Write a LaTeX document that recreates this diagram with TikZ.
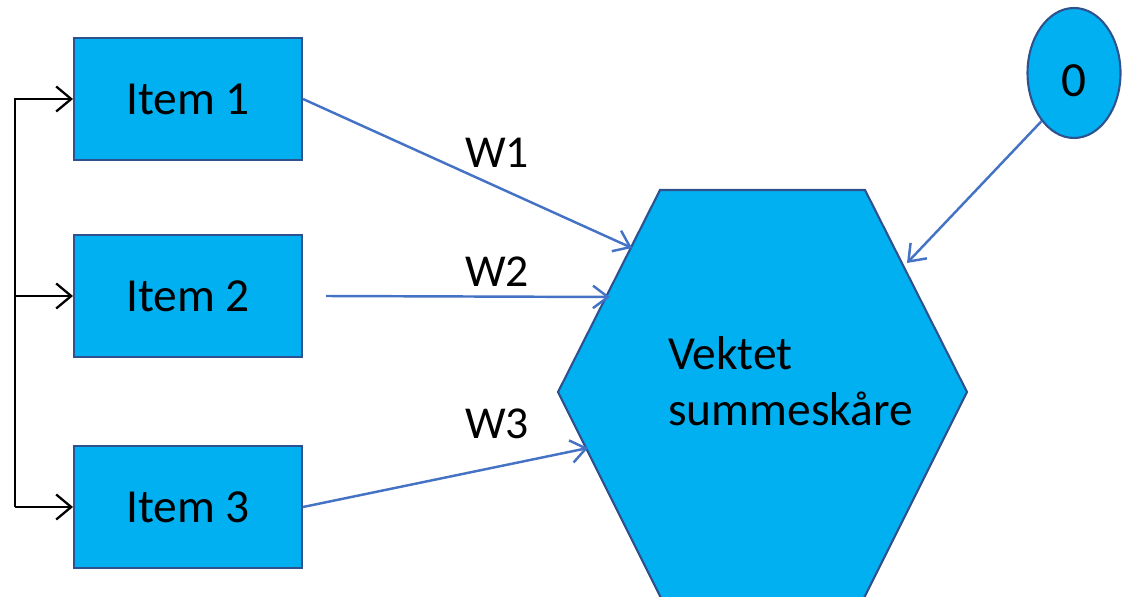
\documentclass[tikz,border=0pt]{standalone}
\usepackage{fontspec}
\setmainfont{Carlito}
\usetikzlibrary{arrows.meta,shapes.geometric}
\definecolor{itemfill}{RGB}{0,176,240}
\definecolor{itemline}{RGB}{47,82,143}
\definecolor{weightline}{RGB}{68,114,196}
\tikzset{
  itembox/.style={draw=itemline,line width=1.2pt,fill=itemfill,minimum width=4.56cm,minimum height=2.44cm,inner sep=0pt,font=\fontsize{27}{32}\selectfont},
  weight/.style={draw=weightline,line width=1.4pt,-{Straight Barb[length=3mm,width=4.5mm]}},
  feed/.style={draw=black,line width=1.3pt,-{Straight Barb[length=3mm,width=5mm]}},
  wlabel/.style={font=\fontsize{26}{32}\selectfont}
}

\begin{document}
\begin{tikzpicture}[x=0.02cm,y=-0.02cm]
\useasboundingbox (0,0) rectangle (1125,597);
% sum node
\draw[draw=itemline,line width=1.2pt,fill=itemfill]
  (660,190) -- (865,190) -- (967,392) -- (863,600) -- (662,600) -- (558,392) -- cycle;
\node[font=\fontsize{27}{32}\selectfont,align=left,anchor=west,inner sep=0pt] (score) at (668,381) {Vektet\\summeskåre};
\coordinate (h1) at (632,248);
\coordinate (h2) at (610,297);
\coordinate (h3) at (588,448);
\coordinate (h4) at (907,263);
% items
\node[itembox] (item1) at (188,99) {Item 1};
\node[itembox] (item2) at (188,296) {Item 2};
\node[itembox] (item3) at (188,507) {Item 3};
\node[ellipse,draw=itemline,line width=1.2pt,fill=itemfill,minimum width=1.86cm,minimum height=2.6cm,inner sep=0pt,font=\fontsize{28}{32}\selectfont] (zero) at (1074,73) {\raisebox{-0.47cm}[0pt][0pt]{0}};
% weights
\draw[weight] (item1.east) -- (h1);
\draw[weight] ([xshift=0.46cm]item2.east) -- (h2);
\draw[weight] (item3.east) -- (h3);
\draw[weight] (zero.236) -- (h4);
\node[wlabel] (w1) at (497,153) {W1};
\node[wlabel] (w2) at (497,272) {W2};
\node[wlabel] (w3) at (497,424) {W3};
% feed rail
\coordinate (rail1) at (15,99);
\coordinate (rail2) at (15,296);
\coordinate (rail3) at (15,507);
\draw[feed] (rail3) -- (rail1) -- (item1.west);
\draw[feed] (rail2) -- (item2.west);
\draw[feed] (rail3) -- (item3.west);
\end{tikzpicture}
\end{document}
